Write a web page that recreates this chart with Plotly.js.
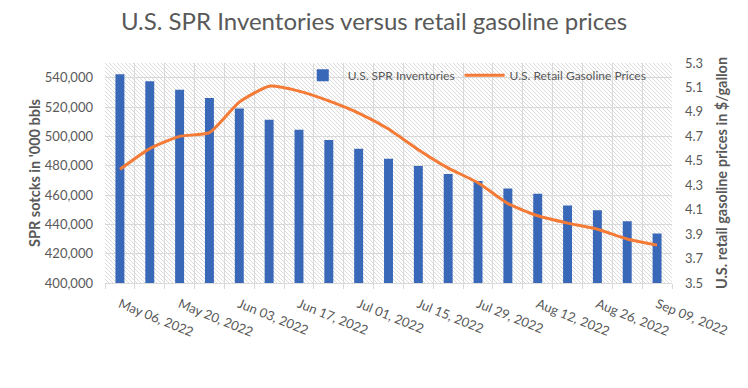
<!DOCTYPE html>
<html>
<head>
<meta charset="utf-8">
<script src="https://cdn.plot.ly/plotly-3.0.1.min.js"></script>
<style>html,body{margin:0;padding:0;background:#fff;}#chart{width:748px;height:388px;}</style>
</head>
<body>
<div id="chart"></div>
<script>
const categories = ["May 06, 2022","May 13, 2022","May 20, 2022","May 27, 2022","Jun 03, 2022","Jun 10, 2022","Jun 17, 2022","Jun 24, 2022","Jul 01, 2022","Jul 08, 2022","Jul 15, 2022","Jul 22, 2022","Jul 29, 2022","Aug 05, 2022","Aug 12, 2022","Aug 19, 2022","Aug 26, 2022","Sep 02, 2022","Sep 09, 2022"];
const sprInventories = [542300,537600,531700,526200,519000,511300,504500,497500,491600,484800,479800,474400,469600,464400,460800,452800,449600,442100,433800];
const gasolinePrices = [4.43,4.60,4.70,4.73,4.98,5.11,5.07,4.99,4.89,4.76,4.59,4.44,4.32,4.15,4.05,3.99,3.94,3.86,3.81];
const shownLabelEvery = 2;

const xIdx = categories.map((c,i)=>i);
const tickIdx = xIdx.filter(i => i % shownLabelEvery === 0);
const tickText = tickIdx.map(i => categories[i]);

const svg = '<svg xmlns="http://www.w3.org/2000/svg" width="567" height="220">' +
 '<defs><pattern id="p" width="4" height="4" patternUnits="userSpaceOnUse">' +
 '<path d="M-1,-1 L5,5 M-1,3 L1,5 M3,-1 L5,1" stroke="#d3d3d3" stroke-width="0.85"/></pattern></defs>' +
 '<rect width="567" height="220" fill="#ffffff"/><rect width="567" height="220" fill="url(#p)"/></svg>';
const bgImg = 'data:image/svg+xml;charset=utf-8,' + encodeURIComponent(svg);

const font = "Lato, 'Open Sans', sans-serif";
const gray = "#595959";

const traces = [
  {type:'bar', x:xIdx, y:sprInventories, name:'U.S. SPR Inventories', width:0.3,
   marker:{color:'#3A68B8'}, yaxis:'y', hovertext:categories},
  {type:'scatter', mode:'lines', x:xIdx, y:gasolinePrices, name:'U.S. Retail Gasoline Prices',
   line:{color:'#F47A36', width:3, shape:'spline', smoothing:0.5}, yaxis:'y2', hovertext:categories}
];

const layout = {
  width:748, height:388,
  margin:{l:105, r:76, t:63, b:105},
  paper_bgcolor:'#ffffff', plot_bgcolor:'#ffffff',
  font:{family:font, color:gray, size:13},
  title:{text:'U.S. SPR Inventories versus retail gasoline prices', x:0.5, xanchor:'center', y:0.945, yanchor:'middle',
         font:{family:font, size:24, color:gray}},
  showlegend:true,
  legend:{orientation:'h', x:0.34, y:1.01, xanchor:'left', yanchor:'top', bgcolor:'rgba(0,0,0,0)',
          font:{family:font, size:12, color:gray}, itemwidth:40, traceorder:'normal'},
  xaxis:{range:[-0.5, categories.length-0.5], tickmode:'array', tickvals:tickIdx, ticktext:tickText,
         tickangle:22, showgrid:false, zeroline:false, showline:true, linecolor:'#d9d9d9', linewidth:1,
         ticks:'', ticklabelstandoff:8, tickfont:{family:font, size:13, color:gray},
         minor:{tick0:-0.5, dtick:1, showgrid:true, gridcolor:'#d9d9d9', gridwidth:1, ticks:'outside', ticklen:5, tickcolor:'#d9d9d9'}},
  yaxis:{range:[400000, 550000], tick0:400000, dtick:20000, tickformat:',', showgrid:true, gridcolor:'#d9d9d9',
         zeroline:false, showline:false, ticks:'', ticklabelstandoff:11, tickfont:{family:font, size:13, color:gray},
         title:{text:"<b>SPR sotcks in '000 bbls</b>", font:{family:font, size:14.5, color:gray}, standoff:0}},
  yaxis2:{overlaying:'y', side:'right', range:[3.5, 5.3], tick0:3.5, dtick:0.2, tickformat:'.1f', showgrid:false,
          zeroline:false, showline:false, ticks:'', ticklabelstandoff:12, tickfont:{family:font, size:13, color:gray},
          title:{text:'<b>U.S. retail gasoline prices in $/gallon</b>', font:{family:font, size:14.5, color:gray}, standoff:14}},
  images:[{source:bgImg, xref:'paper', yref:'paper', x:0, y:1, sizex:1, sizey:1, sizing:'stretch',
           xanchor:'left', yanchor:'top', layer:'below'}]
};

Plotly.newPlot('chart', traces, layout, {displayModeBar:false, staticPlot:true});
</script>
</body>
</html>
